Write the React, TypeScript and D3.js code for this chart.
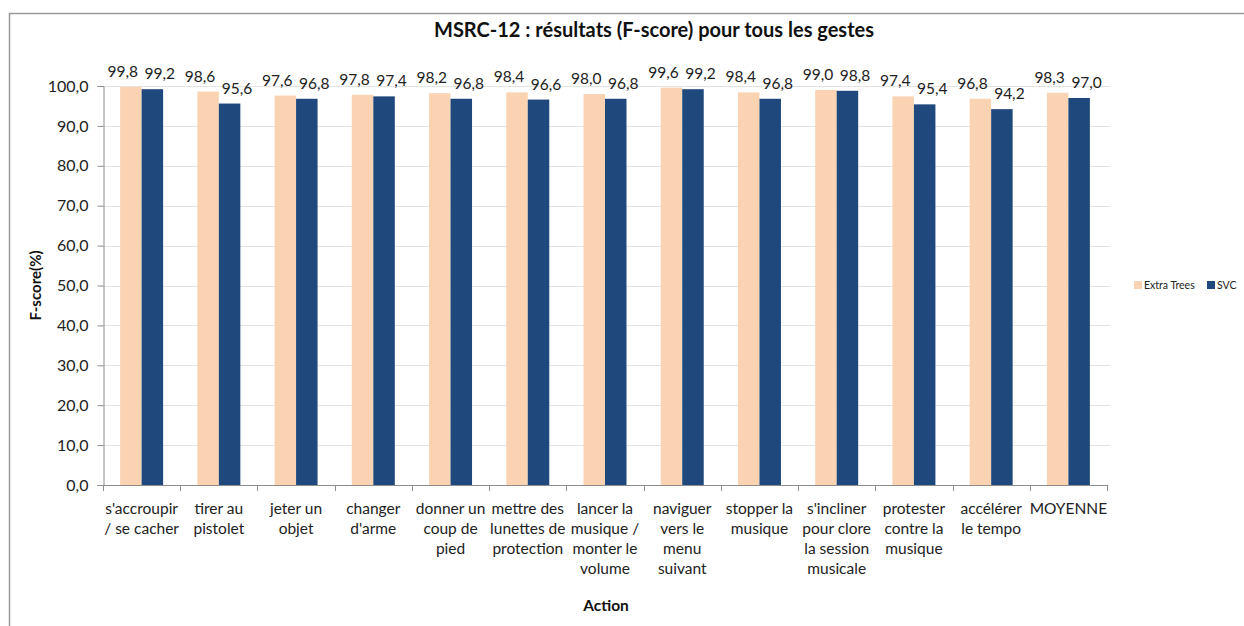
import React, { useEffect, useRef } from 'react';
import * as d3 from 'd3';

const categories: string[][] = [
  ["s'accroupir", '/ se cacher'],
  ['tirer au', 'pistolet'],
  ['jeter un', 'objet'],
  ['changer', "d'arme"],
  ['donner un', 'coup de', 'pied'],
  ['mettre des', 'lunettes de', 'protection'],
  ['lancer la', 'musique /', 'monter le', 'volume'],
  ['naviguer', 'vers le', 'menu', 'suivant'],
  ['stopper la', 'musique'],
  ["s'incliner", 'pour clore', 'la session', 'musicale'],
  ['protester', 'contre la', 'musique'],
  ['accélérer', 'le tempo'],
  ['MOYENNE'],
];

const extraTrees = [99.8, 98.6, 97.6, 97.8, 98.2, 98.4, 98.0, 99.6, 98.4, 99.0, 97.4, 96.8, 98.3];
const svc = [99.2, 95.6, 96.8, 97.4, 96.8, 96.6, 96.8, 99.2, 96.8, 98.8, 95.4, 94.2, 97.0];
const yTicks = [0, 10, 20, 30, 40, 50, 60, 70, 80, 90, 100];

const series = [
  { name: 'Extra Trees', values: extraTrees, color: '#FAD3B3' },
  { name: 'SVC', values: svc, color: '#1F497D' },
];

const W = 1244;
const H = 626;
const FONT = 'Lato, "Open Sans", sans-serif';

const fmt = (v: number) => v.toFixed(1).replace('.', ',');

export default function App() {
  const svgRef = useRef<SVGSVGElement>(null);

  useEffect(() => {
    if (!svgRef.current) return;
    const svg = d3.select(svgRef.current);
    svg.selectAll('*').remove();

    const left = 103;
    const right = 1107;
    const top = 86;
    const bottom = 485;

    // chart frame
    svg.append('rect')
      .attr('x', 9.5).attr('y', 13.5)
      .attr('width', W + 20).attr('height', H + 20)
      .attr('fill', '#fff')
      .attr('stroke', '#9a9a9a')
      .attr('stroke-width', 1.5);

    const x = d3.scaleBand<number>()
      .domain(d3.range(categories.length))
      .range([left, right]);
    const y = d3.scaleLinear().domain([0, 100]).range([bottom, top]);
    const barW = 21.5;

    // grid
    svg.append('g')
      .selectAll('line')
      .data(yTicks.filter(t => t > 0))
      .join('line')
      .attr('x1', left).attr('x2', right + 3)
      .attr('y1', d => Math.round(y(d)) + 0.5)
      .attr('y2', d => Math.round(y(d)) + 0.5)
      .attr('stroke', '#e3e3e3');

    // bars
    series.forEach((s, si) => {
      const g = svg.append('g');
      g.selectAll('rect')
        .data(s.values)
        .join('rect')
        .attr('x', (_, i) => x(i)! + x.bandwidth() / 2 - barW + si * barW)
        .attr('y', d => y(d))
        .attr('width', barW)
        .attr('height', d => bottom - y(d))
        .attr('fill', s.color);
      g.selectAll('text')
        .data(s.values)
        .join('text')
        .attr('x', (_, i) => x(i)! + x.bandwidth() / 2 - barW / 2 + si * barW + (si === 0 ? -8 : 7.5))
        .attr('y', d => y(d) - 10)
        .attr('text-anchor', 'middle')
        .attr('font-family', FONT)
        .attr('font-size', 15.5)
        .attr('fill', '#222')
        .text(d => fmt(d));
    });

    // y axis
    const yAxis = svg.append('g')
      .attr('transform', `translate(${left + 0.5},0)`)
      .call(d3.axisLeft(y).tickValues(yTicks).tickSize(6).tickPadding(9).tickFormat(d => fmt(d as number)));
    yAxis.select('.domain').attr('stroke', '#8c8c8c');
    yAxis.selectAll('.tick line').attr('stroke', '#8c8c8c');
    yAxis.selectAll('.tick text')
      .attr('font-family', FONT)
      .attr('font-size', 16)
      .attr('fill', '#222');

    // x axis
    const xg = svg.append('g');
    xg.append('line')
      .attr('x1', left).attr('x2', right)
      .attr('y1', bottom + 0.5).attr('y2', bottom + 0.5)
      .attr('stroke', '#8c8c8c');
    xg.selectAll('line.tk')
      .data(d3.range(categories.length + 1))
      .join('line')
      .attr('class', 'tk')
      .attr('x1', i => Math.round(left + i * x.step()) + 0.5)
      .attr('x2', i => Math.round(left + i * x.step()) + 0.5)
      .attr('y1', bottom)
      .attr('y2', bottom + 6)
      .attr('stroke', '#8c8c8c');
    categories.forEach((lines, i) => {
      const t = xg.append('text')
        .attr('text-anchor', 'middle')
        .attr('font-family', FONT)
        .attr('font-size', 15.5)
        .attr('fill', '#222');
      lines.forEach((ln, j) => {
        t.append('tspan')
          .attr('x', x(i)! + x.bandwidth() / 2)
          .attr('y', bottom + 29 + j * 20)
          .text(ln);
      });
    });

    // title & axis titles
    svg.append('text')
      .attr('x', 654).attr('y', 37)
      .attr('text-anchor', 'middle')
      .attr('font-family', FONT)
      .attr('font-weight', 'bold')
      .attr('font-size', 20)
      .attr('fill', '#111')
      .text('MSRC-12 : résultats (F-score) pour tous les gestes');

    svg.append('text')
      .attr('transform', `translate(41,${(top + bottom) / 2}) rotate(-90)`)
      .attr('text-anchor', 'middle')
      .attr('font-family', FONT)
      .attr('font-weight', 'bold')
      .attr('font-size', 15)
      .attr('fill', '#111')
      .text('F-score(%)');

    svg.append('text')
      .attr('x', 606).attr('y', 611)
      .attr('text-anchor', 'middle')
      .attr('font-family', FONT)
      .attr('font-weight', 'bold')
      .attr('font-size', 15.5)
      .attr('fill', '#111')
      .text('Action');

    // legend
    const legendX = [1134, 1207];
    series.forEach((s, i) => {
      const row = svg.append('g').attr('transform', `translate(${legendX[i]},281)`);
      row.append('rect')
        .attr('width', 8).attr('height', 8)
        .attr('fill', s.color);
      row.append('text')
        .attr('x', 10).attr('y', 8)
        .attr('font-family', FONT)
        .attr('font-size', 10.5)
        .attr('fill', '#222')
        .text(s.name);
    });
  }, []);

  return (
    <div style={{ position: 'absolute', left: 0, top: 0 }}>
      <svg ref={svgRef} width={W} height={H} style={{ display: 'block', background: '#fff' }} />
    </div>
  );
}
